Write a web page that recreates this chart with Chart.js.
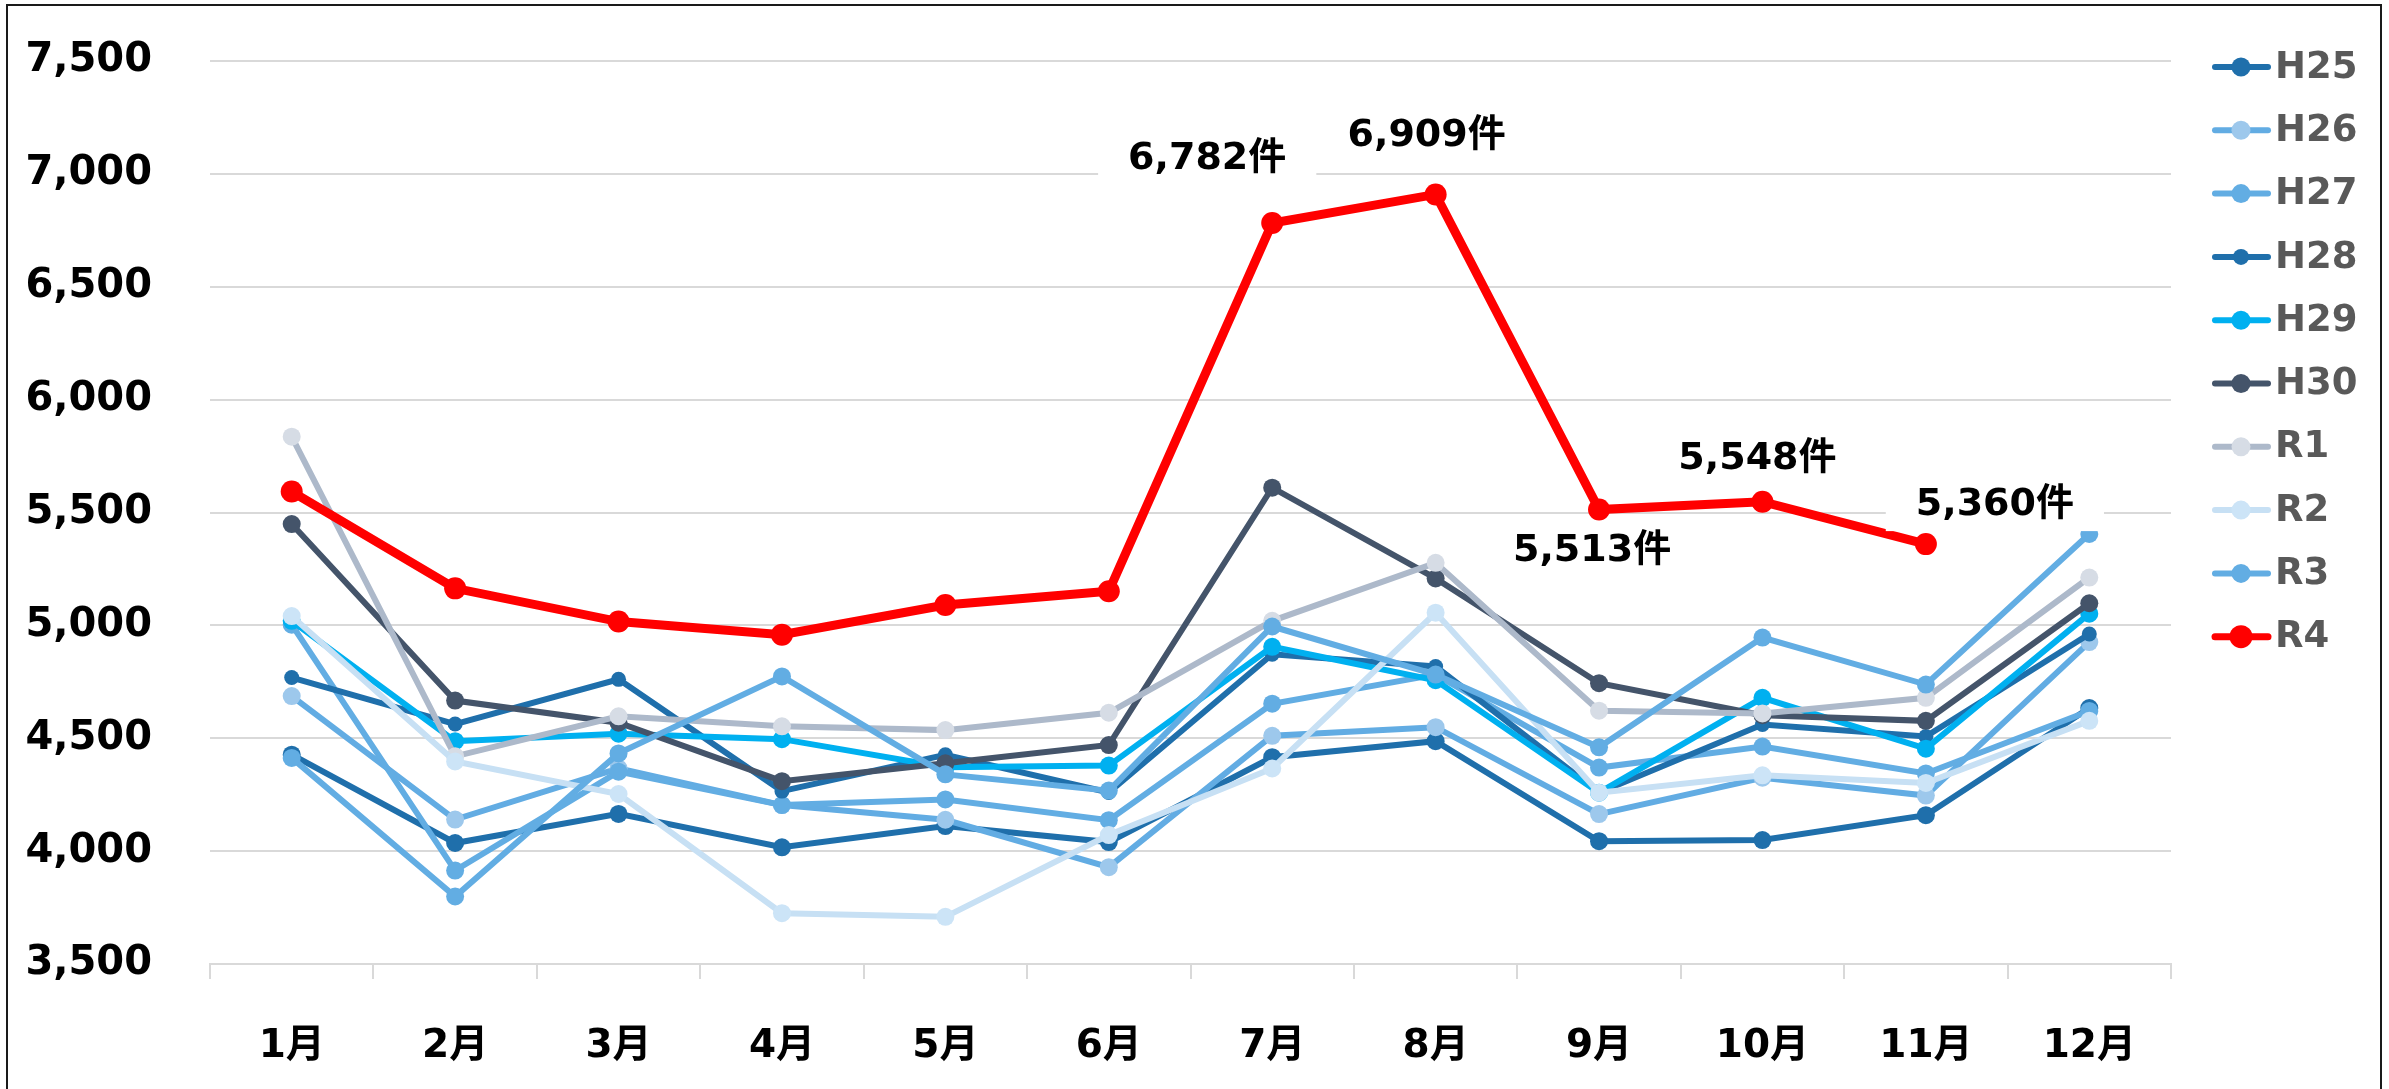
<!DOCTYPE html>
<html>
<head>
<meta charset="utf-8">
<script src="https://cdn.jsdelivr.net/npm/chart.js@4.4.0/dist/chart.umd.min.js"></script>
<style>
  html, body { margin: 0; padding: 0; background: #fff; }
  #wrap { position: relative; width: 2389px; height: 1089px; }
  #frame { position: absolute; left: 6px; top: 4px; width: 2372px; height: 1100px;
           border: 2px solid #1a1a1a; pointer-events: none; }
</style>
</head>
<body>
<div id="wrap"><canvas id="chart"></canvas><div id="frame"></div></div>
<script>
// ---------------------------------
// Data.
const months = ["1月", "2月", "3月", "4月", "5月", "6月", "7月", "8月", "9月", "10月", "11月", "12月"];
const seriesNames = ["H25", "H26", "H27", "H28", "H29", "H30", "R1", "R2", "R3", "R4"];

const h25 = [4427, 4036, 4165, 4017, 4111, 4040, 4416, 4487, 4044, 4049, 4159, 4634];
const h26 = [4687, 4140, 4367, 4204, 4139, 3929, 4511, 4549, 4164, 4325, 4246, 4926];
const h27 = [5003, 3914, 4352, 4204, 4229, 4137, 4653, 4782, 4370, 4463, 4344, 4621];
const h28 = [4769, 4563, 4761, 4266, 4427, 4260, 4872, 4818, 4259, 4561, 4508, 4962];
const h29 = [5020, 4487, 4520, 4496, 4372, 4379, 4905, 4757, 4259, 4679, 4454, 5052];
const h30 = [5449, 4667, 4569, 4310, 4389, 4470, 5610, 5208, 4744, 4602, 4577, 5098];
const r1 = [5836, 4420, 4597, 4553, 4536, 4613, 5020, 5277, 4622, 4610, 4679, 5212];
const r2 = [5041, 4397, 4253, 3725, 3709, 4071, 4366, 5056, 4259, 4336, 4302, 4577];
const r3 = [4413, 3799, 4433, 4774, 4340, 4268, 4995, 4782, 4460, 4946, 4738, 5405];
const r4 = [5593, 5164, 5017, 4959, 5090, 5151, 6782, 6909, 5513, 5548, 5360, null];

const yMin = 3500;
const yMax = 7500;
const yStep = 500;
const labelledMonths = [6, 7, 8, 9, 10]; // R4 points with a 件 label

// ---------------------------------
// Styles.
const lineColors = ["#1f6fab", "#62ace3", "#62ade3", "#1f6fab", "#00b0f0", "#44546a", "#adb9ca", "#c7e0f4", "#62ade3", "#ff0000"];
const dotColors = ["#1f6fab", "#9dc8ec", "#62ade3", "#1f6fab", "#00b0f0", "#44546a", "#d6dce5", "#cce4f7", "#62ade3", "#ff0000"];
const lineWidths = [6, 6, 6, 6, 6, 6, 6, 6, 6, 9];
const dotSizes = [9, 9, 9, 7.5, 9, 9, 9, 9, 9, 11];
const fontFamily = '"DejaVu Sans", "Noto Sans CJK JP", sans-serif';

const allSeries = [h25, h26, h27, h28, h29, h30, r1, r2, r3, r4];
let datasets = [];
for (let i = 0; i < allSeries.length; i++) {
  datasets.push({
    label: seriesNames[i],
    data: allSeries[i],
    borderColor: lineColors[i],
    backgroundColor: dotColors[i],
    pointBackgroundColor: dotColors[i],
    pointBorderWidth: 0,
    pointRadius: dotSizes[i],
    borderWidth: lineWidths[i],
    tension: 0,
    order: allSeries.length - i, // later years on top
  });
}

// Value labels next to the R4 line.
const labelOffsets = { 6: [-65, -64], 7: [-9, -58], 8: [-7, 42], 9: [-5, -43], 10: [69, -39] };
const r4Labels = {
  id: "r4Labels",
  afterDatasetsDraw(chart) {
    const meta = chart.getDatasetMeta(9);
    const ctx = chart.ctx;
    ctx.save();
    ctx.font = "bold 38px " + fontFamily;
    ctx.textAlign = "center";
    ctx.textBaseline = "middle";
    labelledMonths.forEach((m) => {
      const pt = meta.data[m];
      const txt = r4[m].toLocaleString("en-US") + "件";
      const x = pt.x + labelOffsets[m][0];
      const y = pt.y + labelOffsets[m][1];
      const w = ctx.measureText(txt).width;
      ctx.fillStyle = "#fff";
      ctx.fillRect(x - w / 2 - 30, y - 26, w + 60, 52);
      ctx.fillStyle = "#000";
      ctx.fillText(txt, x, y);
    });
    ctx.restore();
  },
};

// Legend on the right: line + dot + name.
const sideLegend = {
  id: "sideLegend",
  afterDraw(chart) {
    const ctx = chart.ctx;
    ctx.save();
    chart.data.datasets.forEach((ds, i) => {
      const y = 67 + i * 63.3;
      ctx.strokeStyle = ds.borderColor;
      ctx.lineWidth = Math.min(ds.borderWidth, 7);
      ctx.lineCap = "round";
      ctx.beginPath();
      ctx.moveTo(2215, y);
      ctx.lineTo(2268, y);
      ctx.stroke();
      ctx.fillStyle = ds.pointBackgroundColor;
      ctx.beginPath();
      ctx.arc(2241, y, ds.pointRadius + 0.5, 0, Math.PI * 2);
      ctx.fill();
      ctx.fillStyle = "#595959";
      ctx.font = "bold 37px " + fontFamily;
      ctx.textAlign = "left";
      ctx.textBaseline = "middle";
      ctx.fillText(ds.label, 2275, y + 1);
    });
    ctx.restore();
  },
};

let chart = new Chart(document.getElementById("chart"), {
  type: "line",
  data: { labels: months, datasets: datasets },
  options: {
    responsive: true,
    maintainAspectRatio: false,
    animation: false,
    layout: { padding: { top: 61, right: 218, bottom: 0, left: 0 } },
    plugins: { legend: { display: false }, tooltip: { enabled: false } },
    scales: {
      x: {
        offset: true,
        grid: { offset: true, drawOnChartArea: false, drawTicks: true, tickLength: 15, color: "#d9d9d9", lineWidth: 2 },
        border: { display: true, color: "#d9d9d9", width: 2 },
        ticks: { color: "#000", font: { family: fontFamily, size: 39, weight: "bold" }, padding: 44, maxRotation: 0 },
        afterFit(scale) { scale.height = 125; },
      },
      y: {
        min: yMin,
        max: yMax,
        grid: { color: "#d9d9d9", lineWidth: 2, drawTicks: false },
        border: { display: false },
        ticks: {
          stepSize: yStep,
          color: "#000",
          padding: 58,
          font: { family: fontFamily, size: 40, weight: "bold" },
          callback: (v) => v.toLocaleString("en-US"),
        },
        afterFit(scale) {
          scale.width = 210;
          scale.paddingTop = 0;
          scale.paddingBottom = 0;
        },
      },
    },
  },
  plugins: [r4Labels, sideLegend],
});
</script>
</body>
</html>
